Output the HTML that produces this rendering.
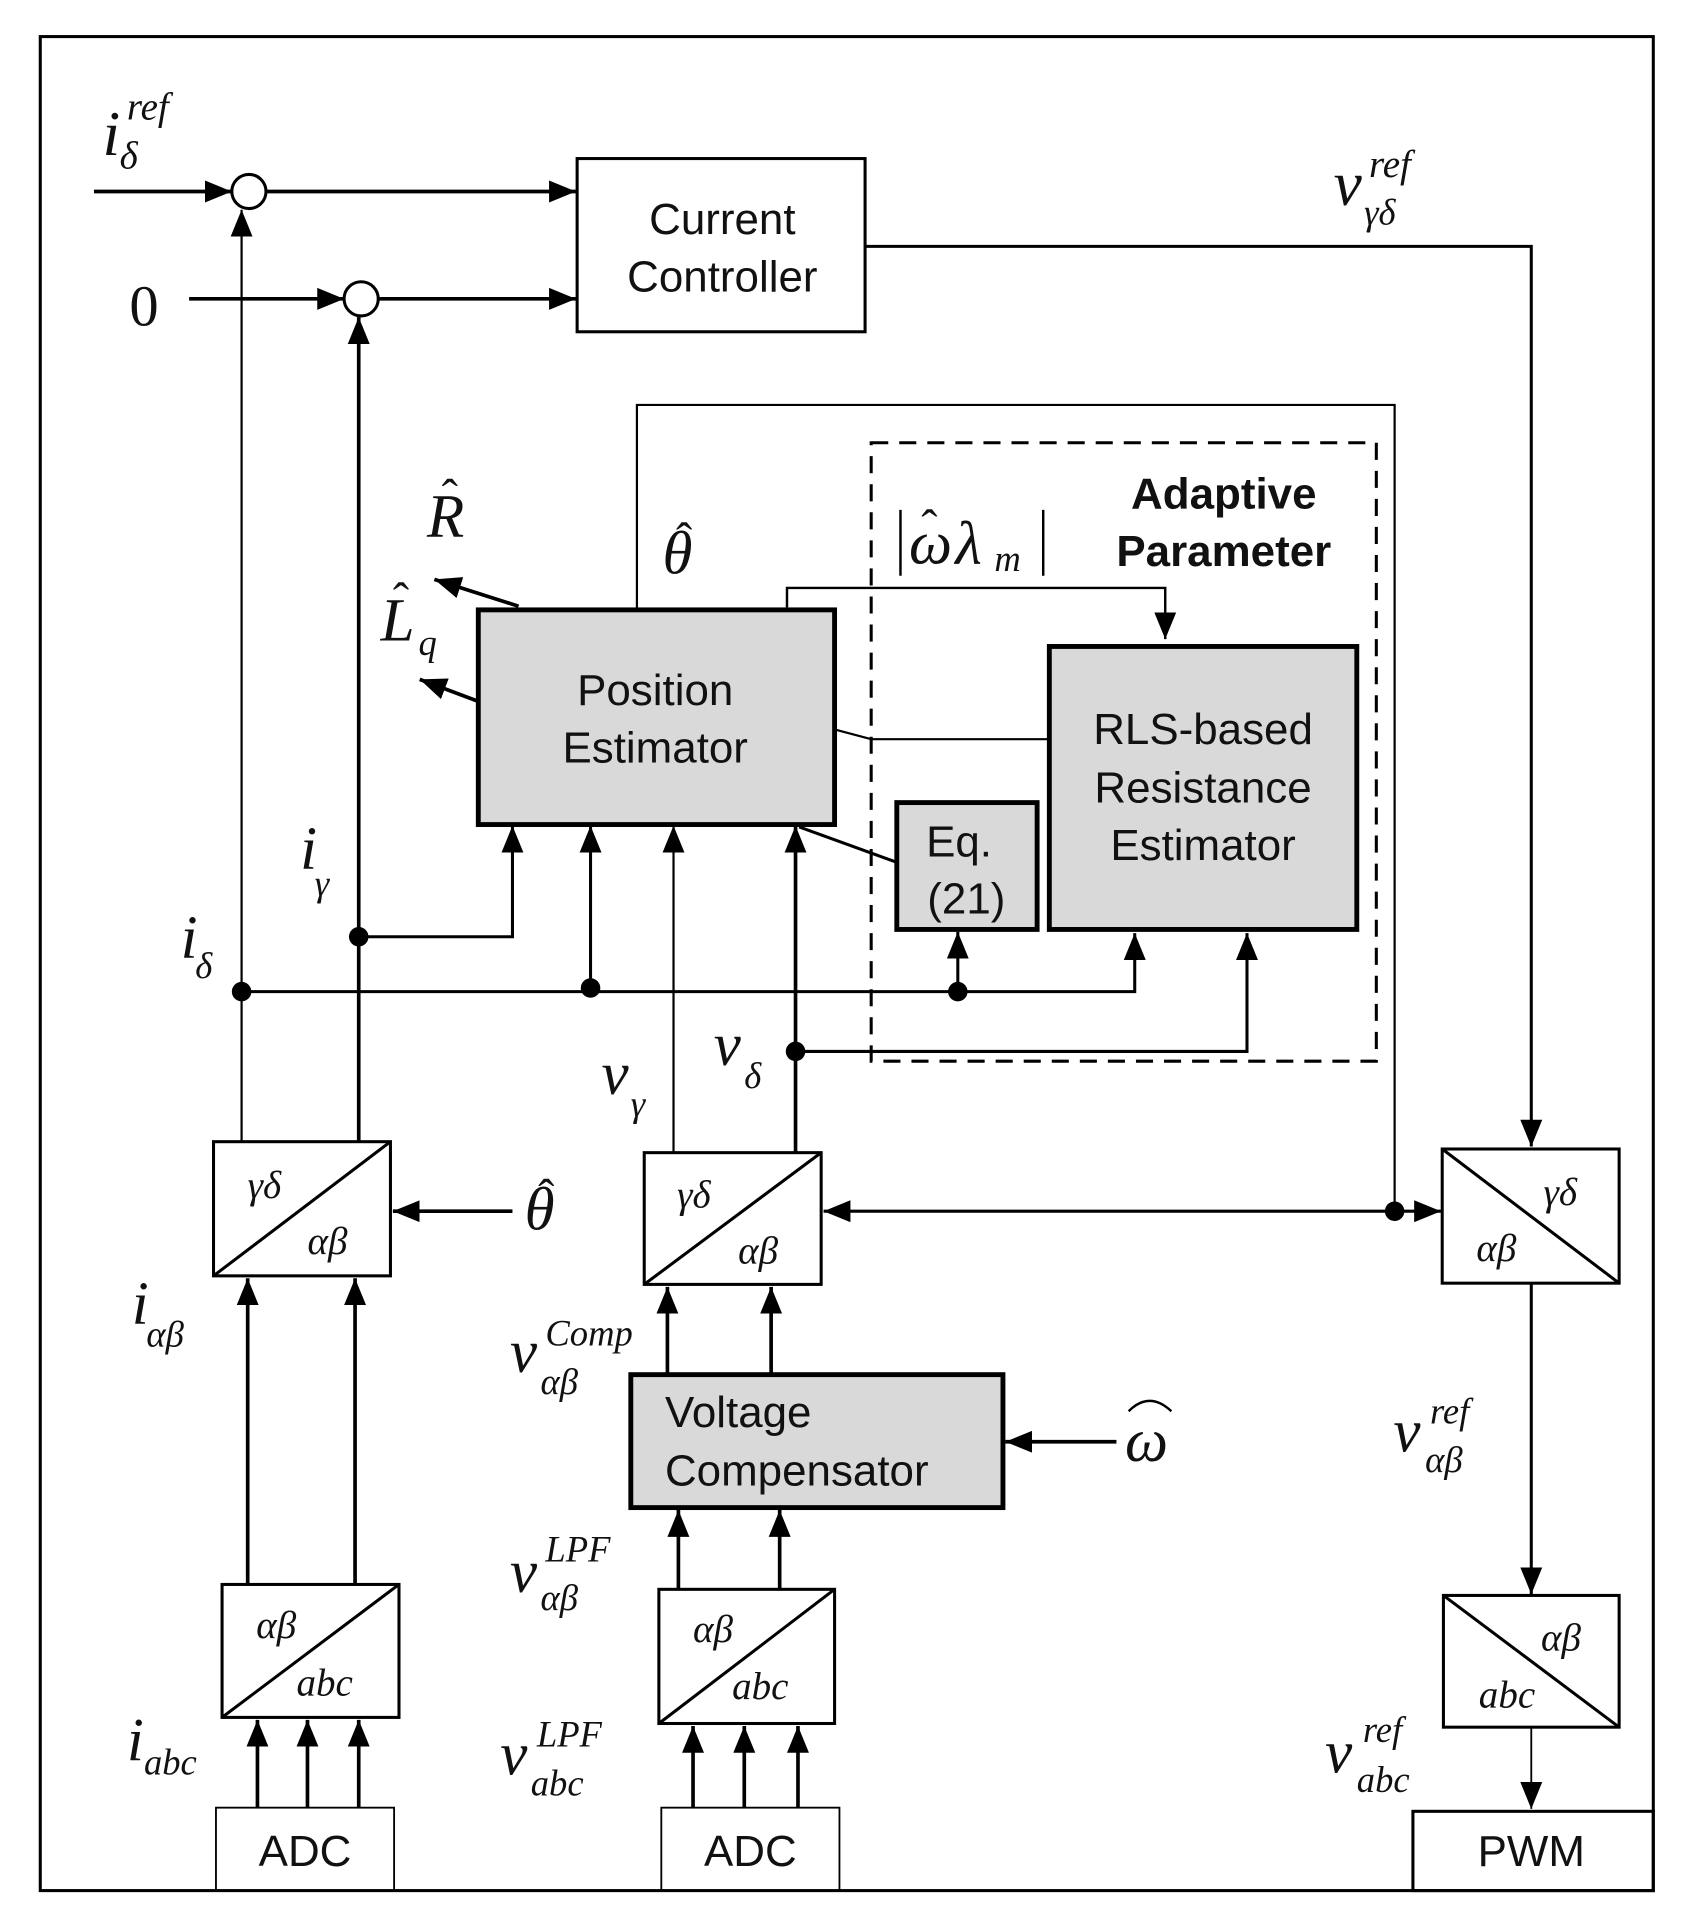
<!DOCTYPE html>
<html><head><meta charset="utf-8"><style>
html,body{margin:0;padding:0;background:#fff;}
svg{display:block;}
.s{font-family:"Liberation Sans",sans-serif;font-size:36px;fill:#111;}
.m{font-family:"Liberation Serif",serif;font-style:italic;fill:#111;}
</style></head><body>
<svg width="1696" height="1915" viewBox="0 0 1390 1570" preserveAspectRatio="none" xmlns="http://www.w3.org/2000/svg">
<defs>
<marker id="a" markerUnits="userSpaceOnUse" markerWidth="24" markerHeight="18" refX="22" refY="9" orient="auto"><path d="M0,0 L22,9 L0,18 Z" fill="#000"/></marker>
</defs>
<g fill="none" stroke="#000">
<rect x="33" y="30" width="1322" height="1520" stroke-width="2.5"/>
<circle cx="204" cy="157" r="14" stroke-width="2.5"/>
<circle cx="296" cy="245" r="14" stroke-width="2.5"/>
<line x1="77" y1="157" x2="190" y2="157" stroke-width="3" marker-end="url(#a)"/>
<line x1="218" y1="157" x2="472" y2="157" stroke-width="3" marker-end="url(#a)"/>
<line x1="155" y1="245" x2="282" y2="245" stroke-width="3" marker-end="url(#a)"/>
<line x1="310" y1="245" x2="472" y2="245" stroke-width="3" marker-end="url(#a)"/>
<rect x="473" y="130" width="236" height="142" stroke-width="2.5"/>
<polyline points="709,202 1255,202 1255,940" stroke-width="2.5" marker-end="url(#a)"/>
<line x1="198" y1="935" x2="198" y2="172" stroke-width="1.8" marker-end="url(#a)"/>
<line x1="294" y1="935" x2="294" y2="260" stroke-width="3" marker-end="url(#a)"/>
<polyline points="522,500 522,332 1143,332 1143,993" stroke-width="1.8"/>
<rect x="714" y="363" width="414" height="507" stroke-width="2.5" stroke-dasharray="14,9"/>
<rect x="392" y="500" width="292" height="176" fill="#d9d9d9" stroke-width="4"/>
<line x1="425" y1="497" x2="356" y2="475" stroke-width="3" marker-end="url(#a)"/>
<line x1="392" y1="575" x2="344" y2="557" stroke-width="3" marker-end="url(#a)"/>
<polyline points="645,498 645,482 955,482 955,524" stroke-width="2" marker-end="url(#a)"/>
<rect x="860" y="530" width="252" height="232" fill="#d9d9d9" stroke-width="4"/>
<polyline points="684,598 714,606 860,606" stroke-width="1.8"/>
<rect x="735" y="658" width="115" height="104" fill="#d9d9d9" stroke-width="4"/>
<line x1="655" y1="678" x2="735" y2="707" stroke-width="2.5"/>
<polyline points="294,768 420,768 420,677" stroke-width="2.5" marker-end="url(#a)"/>
<polyline points="198,813 930,813 930,765" stroke-width="2.5" marker-end="url(#a)"/>
<line x1="484" y1="810" x2="484" y2="677" stroke-width="2.5" marker-end="url(#a)"/>
<line x1="785" y1="813" x2="785" y2="764" stroke-width="2.5" marker-end="url(#a)"/>
<line x1="552" y1="945" x2="552" y2="677" stroke-width="1.8" marker-end="url(#a)"/>
<line x1="652" y1="945" x2="652" y2="677" stroke-width="3" marker-end="url(#a)"/>
<polyline points="652,862 1022,862 1022,765" stroke-width="2.5" marker-end="url(#a)"/>
<rect x="175" y="936" width="145" height="110" stroke-width="2.5"/><line x1="175" y1="1046" x2="320" y2="936" stroke-width="2.5"/>
<line x1="420" y1="993" x2="322" y2="993" stroke-width="3" marker-end="url(#a)"/>
<rect x="528" y="945" width="145" height="108" stroke-width="2.5"/><line x1="528" y1="1053" x2="673" y2="945" stroke-width="2.5"/>
<line x1="1143" y1="993" x2="675" y2="993" stroke-width="2.5" marker-end="url(#a)"/>
<line x1="1143" y1="993" x2="1181" y2="993" stroke-width="2.5" marker-end="url(#a)"/>
<rect x="1182" y="942" width="145" height="110" stroke-width="2.5"/><line x1="1182" y1="942" x2="1327" y2="1052" stroke-width="2.5"/>
<line x1="1255" y1="1052" x2="1255" y2="1307" stroke-width="2.5" marker-end="url(#a)"/>
<rect x="1183" y="1308" width="144" height="108" stroke-width="2.5"/><line x1="1183" y1="1308" x2="1327" y2="1416" stroke-width="2.5"/>
<line x1="1255" y1="1416" x2="1255" y2="1483" stroke-width="1.5" marker-end="url(#a)"/>
<rect x="1158" y="1485" width="197" height="65" stroke-width="2.5"/>
<line x1="203" y1="1298" x2="203" y2="1048" stroke-width="3" marker-end="url(#a)"/>
<line x1="291" y1="1298" x2="291" y2="1048" stroke-width="3" marker-end="url(#a)"/>
<rect x="182" y="1299" width="145" height="109" stroke-width="2.5"/><line x1="182" y1="1408" x2="327" y2="1299" stroke-width="2.5"/>
<rect x="177" y="1482" width="146" height="68" stroke-width="1.5"/>
<line x1="211" y1="1482" x2="211" y2="1410" stroke-width="3" marker-end="url(#a)"/>
<line x1="252" y1="1482" x2="252" y2="1410" stroke-width="3" marker-end="url(#a)"/>
<line x1="294" y1="1482" x2="294" y2="1410" stroke-width="3" marker-end="url(#a)"/>
<line x1="547" y1="1127" x2="547" y2="1055" stroke-width="3" marker-end="url(#a)"/>
<line x1="632" y1="1127" x2="632" y2="1055" stroke-width="3" marker-end="url(#a)"/>
<rect x="517" y="1127" width="305" height="109" fill="#d9d9d9" stroke-width="4"/>
<line x1="915" y1="1182" x2="824" y2="1182" stroke-width="3" marker-end="url(#a)"/>
<line x1="556" y1="1303" x2="556" y2="1238" stroke-width="3" marker-end="url(#a)"/>
<line x1="639" y1="1303" x2="639" y2="1238" stroke-width="3" marker-end="url(#a)"/>
<rect x="540" y="1303" width="144" height="110" stroke-width="2.5"/><line x1="540" y1="1413" x2="684" y2="1303" stroke-width="2.5"/>
<rect x="542" y="1482" width="146" height="68" stroke-width="1.5"/>
<line x1="568" y1="1482" x2="568" y2="1415" stroke-width="3" marker-end="url(#a)"/>
<line x1="610" y1="1482" x2="610" y2="1415" stroke-width="3" marker-end="url(#a)"/>
<line x1="654" y1="1482" x2="654" y2="1415" stroke-width="3" marker-end="url(#a)"/>
<path d="M925,1157 Q942,1140 960,1157" stroke-width="2"/>
<line x1="738" y1="418" x2="738" y2="472" stroke-width="2"/>
<line x1="855" y1="418" x2="855" y2="472" stroke-width="2"/>
</g>
<g fill="#000">
<circle cx="294" cy="768" r="8"/><circle cx="198" cy="813" r="8"/><circle cx="484" cy="810" r="8"/><circle cx="785" cy="813" r="8"/><circle cx="652" cy="862" r="8"/><circle cx="1143" cy="993" r="8"/>
</g>
<text class="s" x="592" y="192" text-anchor="middle">Current</text>
<text class="s" x="592" y="239" text-anchor="middle">Controller</text>
<text class="s" x="537" y="578" text-anchor="middle">Position</text>
<text class="s" x="537" y="625" text-anchor="middle">Estimator</text>
<text class="s" x="986" y="610" text-anchor="middle">RLS-based</text>
<text class="s" x="986" y="658" text-anchor="middle">Resistance</text>
<text class="s" x="986" y="705" text-anchor="middle">Estimator</text>
<text class="s" x="786" y="702" text-anchor="middle">Eq.</text>
<text class="s" x="792" y="749" text-anchor="middle">(21)</text>
<text class="s" x="1003" y="417" text-anchor="middle" font-weight="bold">Adaptive</text>
<text class="s" x="1003" y="464" text-anchor="middle" font-weight="bold">Parameter</text>
<text class="s" x="545" y="1170">Voltage</text>
<text class="s" x="545" y="1218">Compensator</text>
<text class="s" x="250" y="1530" text-anchor="middle">ADC</text>
<text class="s" x="615" y="1530" text-anchor="middle">ADC</text>
<text class="s" x="1255" y="1530" text-anchor="middle">PWM</text>
<text class="m" x="84" y="127" font-size="52">i</text><text class="m" x="104" y="98" font-size="32">ref</text><text class="m" x="98" y="138" font-size="32">δ</text>
<text class="m" x="106" y="267" font-size="48" style="font-style:normal">0</text>
<text class="m" x="1093" y="168" font-size="52">v</text><text class="m" x="1122" y="145" font-size="32">ref</text><text class="m" x="1118" y="184" font-size="30">γδ</text>
<text class="m" x="350" y="440" font-size="50">R</text><text class="m" x="362" y="420" font-size="40" style="font-style:normal">ˆ</text>
<text class="m" x="312" y="525" font-size="50">L</text><text class="m" x="322" y="505" font-size="40" style="font-style:normal">ˆ</text><text class="m" x="343" y="537" font-size="30">q</text>
<text class="m" x="543" y="470" font-size="50">θ</text><text class="m" x="554" y="456" font-size="40" style="font-style:normal">ˆ</text>
<text class="m" x="745" y="462" font-size="50">ω</text><text class="m" x="755" y="445" font-size="40" style="font-style:normal">ˆ</text><text class="m" x="783" y="462" font-size="50">λ</text><text class="m" x="815" y="468" font-size="30">m</text>
<text class="m" x="246" y="712" font-size="50">i</text><text class="m" x="258" y="734" font-size="30">γ</text>
<text class="m" x="148" y="785" font-size="50">i</text><text class="m" x="160" y="802" font-size="30">δ</text>
<text class="m" x="493" y="897" font-size="50">v</text><text class="m" x="517" y="915" font-size="30">γ</text>
<text class="m" x="585" y="873" font-size="50">v</text><text class="m" x="610" y="892" font-size="30">δ</text>
<text class="m" x="430" y="1008" font-size="50">θ</text><text class="m" x="441" y="994" font-size="40" style="font-style:normal">ˆ</text>
<text class="m" x="203" y="982" font-size="32">γδ</text><text class="m" x="252" y="1028" font-size="32">αβ</text>
<text class="m" x="555" y="990" font-size="32">γδ</text><text class="m" x="605" y="1036" font-size="32">αβ</text>
<text class="m" x="1265" y="988" font-size="32">γδ</text><text class="m" x="1210" y="1034" font-size="32">αβ</text>
<text class="m" x="1263" y="1353" font-size="32">αβ</text><text class="m" x="1212" y="1400" font-size="32">abc</text>
<text class="m" x="210" y="1343" font-size="32">αβ</text><text class="m" x="243" y="1390" font-size="32">abc</text>
<text class="m" x="568" y="1346" font-size="32">αβ</text><text class="m" x="600" y="1393" font-size="32">abc</text>
<text class="m" x="108" y="1085" font-size="50">i</text><text class="m" x="120" y="1104" font-size="30">αβ</text>
<text class="m" x="104" y="1443" font-size="50">i</text><text class="m" x="118" y="1455" font-size="30">abc</text>
<text class="m" x="418" y="1125" font-size="50">v</text><text class="m" x="447" y="1103" font-size="30">Comp</text><text class="m" x="443" y="1143" font-size="30">αβ</text>
<text class="m" x="418" y="1305" font-size="50">v</text><text class="m" x="447" y="1280" font-size="30">LPF</text><text class="m" x="443" y="1320" font-size="30">αβ</text>
<text class="m" x="410" y="1455" font-size="50">v</text><text class="m" x="440" y="1432" font-size="30">LPF</text><text class="m" x="435" y="1472" font-size="30">abc</text>
<text class="m" x="922" y="1198" font-size="50">ω</text>
<text class="m" x="1142" y="1190" font-size="50">v</text><text class="m" x="1172" y="1167" font-size="30">ref</text><text class="m" x="1168" y="1207" font-size="30">αβ</text>
<text class="m" x="1086" y="1453" font-size="50">v</text><text class="m" x="1117" y="1428" font-size="30">ref</text><text class="m" x="1112" y="1469" font-size="30">abc</text>
</svg>
</body></html>
